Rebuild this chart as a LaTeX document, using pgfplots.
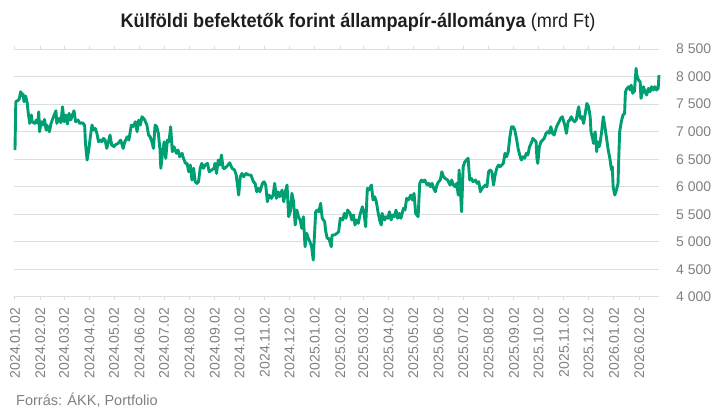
\documentclass[border=0pt]{standalone}
\usepackage{fontspec}
\setmainfont{Liberation Sans}
\newfontfamily\titlefont[FakeStretch=0.93]{Liberation Sans}
\usepackage{pgfplots}
\usepackage{pgfplotstable}
\pgfplotsset{compat=1.18}

\definecolor{linegreen}{RGB}{0,158,115}
\definecolor{gridgray}{RGB}{218,224,224}
\definecolor{labelgray}{RGB}{128,128,128}
\definecolor{titledark}{RGB}{30,30,30}

% napok 2024.01.02-tol, mrd Ft
\pgfplotstableread{
day value
0 6667
1 7543
3 7561
5 7586
7 7725
8 7695
9 7646
10 7682
11 7543
13 7646
15 7514
16 7361
18 7150
20 7302
21 7180
24 7150
26 7211
28 7150
29 7361
30 6999
32 7180
34 7120
36 7223
38 7029
39 7120
42 6999
44 7150
47 7271
50 7380
51 7150
54 7242
56 7162
58 7452
60 7180
62 7302
64 7138
66 7332
68 7211
72 7380
74 7180
77 7211
79 7150
82 7162
85 7120
86 6788
88 6485
90 6667
92 6908
94 7120
96 7029
98 7060
100 6969
102 6817
104 6848
106 6817
108 6878
110 6848
112 6697
114 6817
116 6939
118 6757
121 6727
122 6757
126 6788
129 6848
132 6697
134 6817
137 6908
139 6848
142 7120
144 7090
147 7180
149 6999
151 7211
153 7120
155 7271
158 7223
161 7120
163 6939
165 6908
167 6817
169 6697
171 7120
173 7090
175 6969
177 6667
178 6335
180 6607
182 6817
184 6516
186 6848
188 6817
190 7090
192 6636
194 6727
197 6607
199 6667
201 6545
204 6607
205 6545
208 6425
210 6425
212 6273
214 6394
216 6122
218 6335
220 6092
222 6062
224 6092
226 6335
228 6425
230 6335
232 6394
235 6425
237 6273
240 6304
243 6335
244 6425
246 6243
248 6485
250 6394
252 6576
254 6335
256 6335
260 6394
262 6436
265 6335
268 6304
270 6213
273 5850
275 6182
277 6243
279 6182
282 6243
285 6213
288 6213
291 6092
293 6062
295 5910
297 5971
299 5910
302 6062
304 6092
306 6032
308 5729
310 5850
313 5790
315 5850
317 6062
319 5790
321 5910
323 5820
326 5941
328 5729
330 5910
332 6032
334 5457
336 5547
338 5881
340 5729
342 5306
344 5578
346 5457
348 5397
350 5246
352 5457
354 4912
356 5156
358 5065
360 5003
362 4912
364 4671
365 4974
367 5547
369 5578
371 5547
373 5700
375 5428
378 5366
379 5215
381 5065
383 5065
386 4912
387 5125
390 5125
393 5156
395 5185
397 5428
400 5397
402 5518
404 5428
406 5578
409 5518
411 5397
413 5488
415 5306
417 5397
419 5337
421 5488
424 5638
426 5518
428 5276
430 5971
432 5941
435 6032
437 5760
439 5820
441 5729
443 5547
445 5397
447 5306
448 5518
451 5397
453 5457
455 5428
457 5547
459 5397
461 5488
463 5457
465 5578
467 5428
469 5518
471 5428
474 5609
476 5578
478 5790
480 5760
483 5850
485 5760
487 5881
489 5518
492 5457
494 6062
496 6122
498 6092
500 6122
503 6032
505 6062
507 6001
509 6062
511 5971
513 5910
515 6032
517 6092
519 6122
521 6273
523 6182
525 6153
528 6122
531 6032
533 6122
535 6032
537 6001
539 6062
541 5850
542 6304
544 5820
545 5547
547 6364
549 6454
551 6485
553 6516
555 6122
557 6153
559 6092
562 6122
564 6062
566 6092
568 5910
570 5971
572 6001
574 6032
576 6001
578 6273
580 6304
582 6273
584 6032
586 6213
588 6335
590 6394
592 6364
594 6394
596 6425
598 6607
600 6545
602 6636
604 6908
606 7090
608 7090
610 7029
612 6878
614 6697
616 6576
618 6485
620 6545
622 6516
624 6607
626 6576
628 6727
630 6788
632 6878
634 6848
636 6817
637 6516
638 6425
640 6727
642 6817
644 6848
646 6878
648 6969
650 6999
652 6969
654 7090
656 6969
658 6939
661 7090
664 7180
666 7242
668 7271
671 7120
673 6969
675 7180
677 7211
679 7271
681 7211
683 7180
685 7211
687 7392
688 7452
690 7242
692 7271
694 7150
696 7332
698 7513
700 7452
702 7271
703 6999
705 6878
706 6788
708 6999
710 6636
711 6817
713 6727
714 6788
716 6999
718 7271
720 7090
722 6878
724 6667
726 6516
728 6304
729 6364
730 6001
732 5850
734 5941
736 6062
737 6576
738 6999
740 7180
742 7302
744 7332
745 7725
747 7786
749 7816
751 7755
752 7846
754 7695
755 7786
756 7725
758 8149
759 8027
761 7937
763 7906
764 7604
766 7725
767 7816
769 7725
771 7665
773 7786
775 7725
777 7816
779 7755
781 7816
783 7755
785 7786
786 8027
}\holdings

\begin{document}
\begin{tikzpicture}
\useasboundingbox (0,0) rectangle (718pt,415pt);
\begin{axis}[
    at={(14pt,118pt)}, anchor=south west,
    scale only axis, width=645pt, height=248pt,
    xmin=-1.2, xmax=786, ymin=4000, ymax=8500,
    axis line style={draw=none},
    ytick={4000,4500,...,8500},
    yticklabel pos=right,
    ytick style={draw=none},
    ymajorgrids,
    grid style={gridgray, line width=1pt},
    xtick={0,31,60,91,121,152,182,213,244,274,305,335,366,397,425,456,486,517,547,578,609,639,670,700,731,762},
    xticklabels={2024.01.02,2024.02.02,2024.03.02,2024.04.02,2024.05.02,2024.06.02,2024.07.02,2024.08.02,2024.09.02,2024.10.02,2024.11.02,2024.12.02,2025.01.02,2025.02.02,2025.03.02,2025.04.02,2025.05.02,2025.06.02,2025.07.02,2025.08.02,2025.09.02,2025.10.02,2025.11.02,2025.12.02,2026.01.02,2026.02.02},
    xtick style={gridgray, line width=1pt},
    tick align=outside,
    major tick length=3pt,
    ticklabel style={font=\fontsize{14}{16}\selectfont, text=labelgray},
    xticklabel style={rotate=90, anchor=east, inner sep=0pt},
    xticklabel shift=8pt,
    yticklabel style={anchor=west, inner sep=0pt, xshift=14pt},
    /pgf/number format/assume math mode=true,
    /pgf/number format/1000 sep={\ },
    clip=false,
]
\addplot[linegreen, line width=2.9pt, line join=round] table[x=day, y=value] {\holdings};
\end{axis}
\node[anchor=base, inner sep=0pt, text=titledark, font=\titlefont\fontsize{19.5}{22}\selectfont]
    at (358pt,387pt) {\textbf{Külföldi befektetők forint állampapír-állománya} (mrd Ft)};
\node[anchor=base west, inner sep=0pt, text=labelgray, font=\fontsize{14.5}{16}\selectfont]
    at (16pt,9pt) {Forrás: ÁKK, Portfolio};
\end{tikzpicture}
\end{document}
